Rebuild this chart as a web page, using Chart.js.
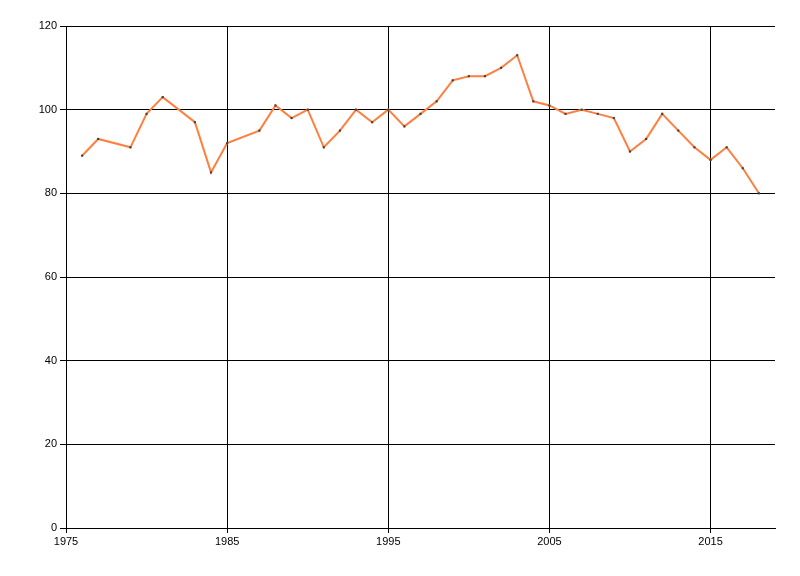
<!DOCTYPE html>
<html>
<head>
<meta charset="utf-8">
<script src="https://cdn.jsdelivr.net/npm/chart.js@4/dist/chart.umd.min.js"></script>
<style>
  html, body { margin: 0; padding: 0; background: #fff; }
  #chart { display: block; }
</style>
</head>
<body>
<canvas id="chart" width="800" height="576"></canvas>
<script>
// data
var years = [1976, 1977, 1979, 1980, 1981, 1983, 1984, 1985, 1987, 1988, 1989, 1990,
  1991, 1992, 1993, 1994, 1995, 1996, 1997, 1998, 1999, 2000, 2001, 2002, 2003,
  2004, 2005, 2006, 2007, 2008, 2009, 2010, 2011, 2012, 2013, 2014, 2015, 2016,
  2017, 2018];
var values = [89, 93, 91, 99, 103, 97, 85, 92, 95, 101, 98, 100,
  91, 95, 100, 97, 100, 96, 99, 102, 107, 108, 108, 110, 113,
  102, 101, 99, 100, 99, 98, 90, 93, 99, 95, 91, 88, 91,
  86, 80];
var xTicks = [1975, 1985, 1995, 2005, 2015];
var yTicks = [0, 20, 40, 60, 80, 100, 120];

var points = years.map(function (y, i) { return { x: y, y: values[i] }; });
var tickFont = { family: 'Liberation Sans, Arial, sans-serif', size: 11 };

new Chart(document.getElementById('chart').getContext('2d'), {
  type: 'line',
  data: {
    datasets: [{
      data: points,
      borderColor: '#ff7f3f',
      borderWidth: 2,
      tension: 0,
      pointStyle: 'rect',
      pointRadius: 1.5,
      pointBackgroundColor: '#404040',
      pointBorderWidth: 0,
      fill: false
    }]
  },
  options: {
    responsive: false,
    animation: false,
    events: [],
    layout: { padding: { left: 0, top: 26, right: 25, bottom: 0 } },
    plugins: { legend: { display: false }, tooltip: { enabled: false } },
    scales: {
      x: {
        type: 'linear',
        min: 1975,
        max: 2019,
        afterBuildTicks: function (scale) {
          scale.ticks = xTicks.map(function (v) { return { value: v }; });
        },
        afterFit: function (scale) { scale.height = 48; },
        grid: { color: '#000', lineWidth: 1, tickLength: 5, drawTicks: true },
        border: { color: '#000', width: 1 },
        ticks: {
          color: '#000',
          font: tickFont,
          padding: 2,
          maxRotation: 0,
          callback: function (v) { return String(v); }
        }
      },
      y: {
        min: 0,
        max: 120,
        afterBuildTicks: function (scale) {
          scale.ticks = yTicks.map(function (v) { return { value: v }; });
        },
        afterFit: function (scale) { scale.width = 66; },
        grid: { color: '#000', lineWidth: 1, tickLength: 6, drawTicks: true },
        border: { color: '#000', width: 1 },
        ticks: { color: '#000', font: tickFont, padding: 3 }
      }
    }
  }
});
</script>
</body>
</html>
